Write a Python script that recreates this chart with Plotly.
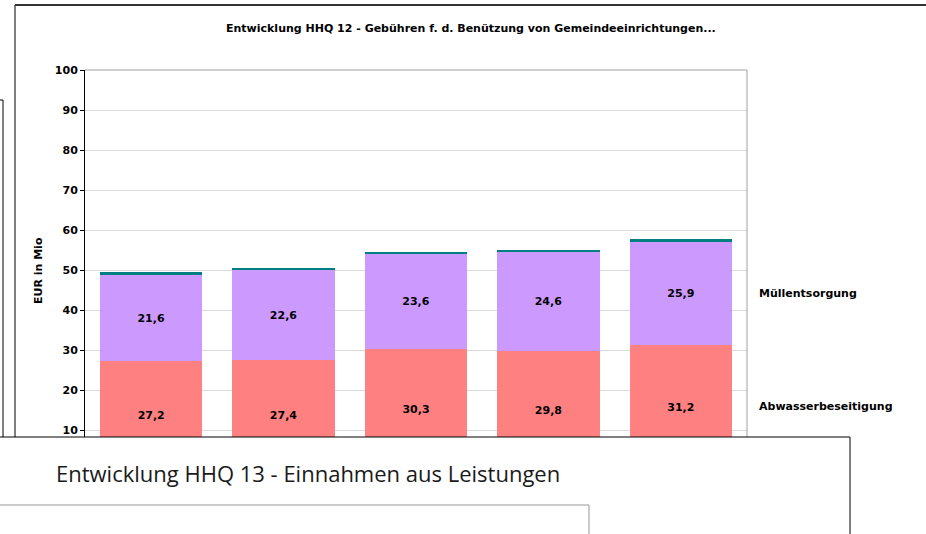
import plotly.graph_objects as go

# ---- data ----
categories = ["1", "2", "3", "4", "5"]
abwasser = [27.2, 27.4, 30.3, 29.8, 31.2]
muell = [21.6, 22.6, 23.6, 24.6, 25.9]
sonstige = [0.7, 0.5, 0.6, 0.7, 0.7]
series_names = ["Abwasserbeseitigung", "Müllentsorgung", "Sonstige"]
title_top = "Entwicklung HHQ 12 - Gebühren f. d. Benützung von Gemeindeeinrichtungen..."
title_bottom = "Entwicklung HHQ 13 - Einnahmen aus Leistungen"
y_title = "EUR in Mio"
y_ticks = [10, 20, 30, 40, 50, 60, 70, 80, 90, 100]


def fmt(v):
    return f"{v:.1f}".replace(".", ",")


W, H = 926, 534
L, R, T, B = 85, 747, 70, 470


def px(x):
    return (x - L) / (R - L)


def py(y):
    return (B - y) / (B - T)


BOLD = dict(family="DejaVu Sans", size=11, color="#000000", weight="bold")

fig = go.Figure()
colors = ["#FF8080", "#CC99FF", "#008080"]
for name, vals, col, lab in zip(series_names, [abwasser, muell, sonstige], colors, [True, True, False]):
    fig.add_trace(go.Bar(
        x=categories, y=vals, name=name,
        marker=dict(color=col, line=dict(width=0)),
        text=[fmt(v) for v in vals] if lab else None,
        textposition="inside" if lab else "none",
        insidetextanchor="middle",
        textangle=0,
        textfont=BOLD,
        hoverinfo="skip",
    ))

fig.update_layout(
    width=W, height=H,
    margin=dict(l=L, r=W - R, t=T, b=H - B),
    barmode="stack", bargap=0.226,
    plot_bgcolor="white", paper_bgcolor="white",
    showlegend=False,
    xaxis=dict(showticklabels=False, showline=False, showgrid=False, zeroline=False,
               ticks="", range=[-0.5, 4.5]),
    yaxis=dict(range=[0, 100], tickvals=y_ticks, showgrid=True, gridcolor="#d9d9d9", gridwidth=1,
               showline=True, linecolor="#000000", linewidth=1, zeroline=False,
               ticks="outside", ticklen=4, tickcolor="#000000",
               tickfont=BOLD),
)

shapes = []
# outer frame of the top chart
shapes.append(dict(type="rect", xref="paper", yref="paper", x0=px(15), x1=px(960), y0=py(5), y1=py(700),
                   line=dict(color="#000000", width=1), fillcolor="rgba(0,0,0,0)", layer="below"))
shapes.append(dict(type="line", xref="paper", yref="paper", x0=px(15), x1=px(930), y0=py(5), y1=py(5),
                   line=dict(color="#333333", width=2), layer="below"))
# box at the far left
shapes.append(dict(type="rect", xref="paper", yref="paper", x0=px(-30), x1=px(3), y0=py(100), y1=py(700),
                   line=dict(color="#000000", width=1), fillcolor="rgba(0,0,0,0)", layer="below"))
# plot-area top and right edge
shapes.append(dict(type="line", xref="paper", yref="paper", x0=0, x1=1, y0=1, y1=1,
                   line=dict(color="#a0a0a0", width=1), layer="above"))
shapes.append(dict(type="line", xref="paper", yref="paper", x0=1, x1=1, y0=0, y1=1,
                   line=dict(color="#a0a0a0", width=1), layer="above"))
# lower overlapping chart box
shapes.append(dict(type="rect", xref="paper", yref="paper", x0=px(-30), x1=px(850), y0=py(437), y1=py(700),
                   line=dict(color="#000000", width=1), fillcolor="white", layer="above"))
shapes.append(dict(type="rect", xref="paper", yref="paper", x0=px(-30), x1=px(589), y0=py(505), y1=py(700),
                   line=dict(color="#999999", width=1), fillcolor="white", layer="above"))
fig.update_layout(shapes=shapes)

ann = [
    dict(text=title_top, xref="paper", yref="paper", x=px(471), y=py(28), xanchor="center", yanchor="middle",
         showarrow=False, font=dict(family="DejaVu Sans", size=11, color="#000000", weight="bold")),
    dict(text=y_title, xref="paper", yref="paper", x=px(38), y=py(270), xanchor="center", yanchor="middle",
         textangle=-90, showarrow=False, font=BOLD),
    dict(text=series_names[1], xref="paper", yref="paper", x=px(757), y=py(293), xanchor="left", yanchor="middle",
         showarrow=False, font=BOLD),
    dict(text=series_names[0], xref="paper", yref="paper", x=px(757), y=py(406), xanchor="left", yanchor="middle",
         showarrow=False, font=BOLD),
    dict(text=title_bottom, xref="paper", yref="paper", x=px(54), y=py(473), xanchor="left", yanchor="middle",
         showarrow=False, font=dict(family="Open Sans", size=22, color="#1a1a1a")),
]
fig.update_layout(annotations=ann)

fig.write_html("out.html", config={"displayModeBar": False, "staticPlot": True},
               post_script="document.body.style.margin='0';document.body.style.overflow='hidden';")
